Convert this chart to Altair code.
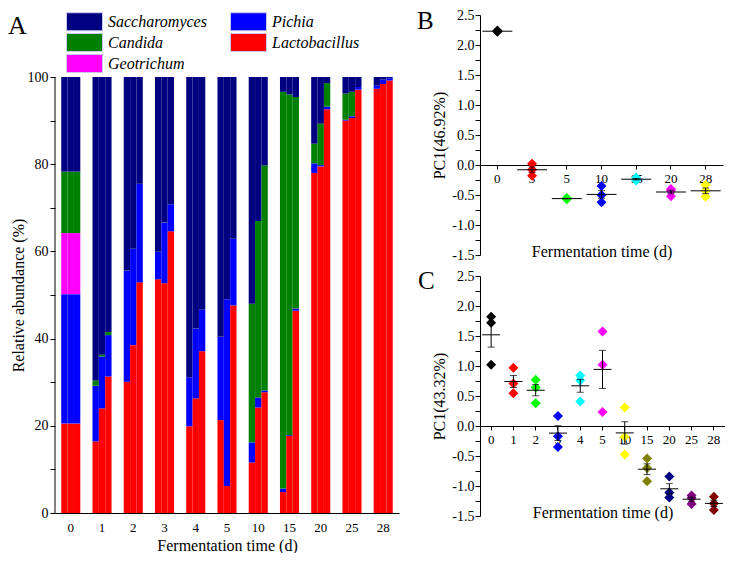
import altair as alt
import pandas as pd

FONT = "Liberation Serif, Times New Roman, Times, DejaVu Serif, serif"

# ---------------- Panel A data ----------------
days_a = ["0", "1", "2", "3", "4", "5", "10", "15", "20", "25", "28"]
reps = ["r1", "r2", "r3"]
# legend order (laid out column by column: 3 rows in col 1, 2 rows in col 2)
genera = ["Saccharomyces", "Candida", "Geotrichum", "Pichia", "Lactobacillus"]
genus_colors = ["#000080", "#008000", "#FF00FF", "#0000FF", "#FF0000"]
stack_rank = {"Lactobacillus": 0, "Pichia": 1, "Geotrichum": 2, "Candida": 3, "Saccharomyces": 4}

# values per bar: 11 days x 3 replicates (day-major order)
lactobacillus = [20.5, 20.5, 20.5, 16.4, 24.0, 31.3, 30.1, 38.5, 52.9, 53.6, 52.7, 64.6,
                 19.9, 26.3, 37.1, 21.3, 6.2, 47.6, 11.6, 24.2, 27.7, 4.8, 17.7, 46.4,
                 78.0, 79.5, 92.6, 90.0, 90.6, 97.1, 97.3, 98.4, 99.2]
pichia = [29.7, 29.7, 29.7, 12.8, 11.9, 9.5, 25.5, 22.1, 22.6, 6.3, 13.9, 6.2,
          11.2, 16.0, 9.6, 19.1, 42.8, 15.3, 4.6, 2.3, 0.4, 0.8, 0.2, 0.5,
          2.2, 0.3, 0.6, 0.2, 0.4, 0.6, 0.7, 1.0, 0.5]
geotrichum = [14.0, 14.0, 14.0, 0, 0, 0, 0, 0, 0, 0, 0, 0,
              0, 0, 0, 0, 0, 0, 0, 0, 0, 0, 0, 0,
              0, 0, 0, 0, 0, 0, 0, 0, 0]
candida = [14.1, 14.1, 14.1, 1.2, 0.4, 0.7, 0, 0, 0, 0, 0, 0,
           0, 0, 0, 0, 0, 0, 31.8, 40.5, 51.6, 91.0, 78.1, 48.5,
           4.5, 9.5, 5.4, 6.0, 5.6, 0, 0, 0, 0]
saccharomyces = [21.7, 21.7, 21.7, 69.6, 63.7, 58.5, 44.4, 39.4, 24.5, 40.1, 33.4, 29.2,
                 68.9, 57.7, 53.3, 59.6, 51.0, 37.1, 52.0, 33.0, 20.3, 3.4, 4.0, 4.6,
                 15.3, 10.7, 1.4, 3.8, 3.4, 2.3, 2.0, 0.6, 0.3]

# ---------------- Panel B data ----------------
times_b = ["0", "3", "5", "10", "15", "20", "28"]
pc1_b = [2.22, 2.23, 2.24,
         0.02, -0.08, -0.18,
         -0.55, -0.56, -0.57,
         -0.35, -0.50, -0.62,
         -0.21, -0.24, -0.26,
         -0.40, -0.43, -0.52,
         -0.33, -0.43, -0.53]
colors_b = ["#000000", "#FF0000", "#00FF00", "#0000FF", "#00FFFF", "#FF00FF", "#FFFF00"]

# ---------------- Panel C data ----------------
times_c = ["0", "1", "2", "3", "4", "5", "10", "15", "20", "25", "28"]
pc1_c = [1.82, 1.72, 1.02,
         0.97, 0.71, 0.545,
         0.77, 0.64, 0.38,
         0.165, -0.17, -0.35,
         0.84, 0.76, 0.41,
         1.575, 1.02, 0.235,
         0.31, -0.18, -0.475,
         -0.54, -0.70, -0.92,
         -0.84, -1.11, -1.19,
         -1.16, -1.20, -1.30,
         -1.18, -1.29, -1.40]
colors_c = ["#000000", "#FF0000", "#00FF00", "#0000FF", "#00FFFF", "#FF00FF",
            "#FFFF00", "#808000", "#000080", "#800080", "#800000"]

# ================= Panel A =================
rows = []
series = [("Lactobacillus", lactobacillus), ("Pichia", pichia), ("Geotrichum", geotrichum),
          ("Candida", candida), ("Saccharomyces", saccharomyces)]
for i, d in enumerate(days_a):
    for j, r in enumerate(reps):
        k = i * 3 + j
        for g, arr in series:
            rows.append({"day": d, "rep": r, "genus": g, "value": arr[k], "rank": stack_rank[g]})
df_a = pd.DataFrame(rows)

A_W, A_H = 344, 498
A_TOP = 62
y_max = 100.0 * A_H / (A_H - A_TOP)
yscale_a = alt.Scale(domain=[0, y_max], nice=False, zero=True)

bars = alt.Chart(df_a).mark_bar().encode(
    x=alt.X("day:N", sort=days_a,
            scale=alt.Scale(paddingInner=0.39, paddingOuter=0.2),
            axis=alt.Axis(title="Fermentation time (d)", labelAngle=0, ticks=False,
                          labelPadding=8, titlePadding=3, labelFontSize=13, titleFontSize=16)),
    xOffset=alt.XOffset("rep:N", sort=reps),
    y=alt.Y("value:Q", stack="zero", scale=yscale_a,
            axis=alt.Axis(values=list(range(0, 101, 10)),
                          labelExpr="datum.value % 20 == 0 ? datum.label : ''",
                          domain=False, tickSize=5, labelPadding=2, labelFontSize=14,
                          title="Relative abundance (%)", titleFontSize=16,
                          titleX=-37, titleY=(A_TOP + A_H) / 2, titleAngle=270,
                          titleBaseline="middle", titleAlign="center")),
    color=alt.Color("genus:N", scale=alt.Scale(domain=genera, range=genus_colors),
                    legend=alt.Legend(title=None, orient="none", legendX=20, legendY=-3,
                                      columns=2, padding=0,
                                      symbolType="M-2,-1H2V1H-2Z", symbolSize=324,
                                      symbolStrokeColor="#c8c8f0", symbolStrokeWidth=1,
                                      symbolOpacity=1,
                                      labelFont=FONT, labelFontStyle="italic", labelFontSize=16,
                                      labelColor="black", labelOffset=14,
                                      columnPadding=21, rowPadding=-3)),
    order=alt.Order("rank:Q", sort="ascending"),
)

axis_line_a = alt.Chart(pd.DataFrame({"k": [0]})).mark_rule(color="black", strokeWidth=1).encode(
    x=alt.value(0), y=alt.datum(0), y2=alt.datum(100)
)

letter_a = alt.Chart(pd.DataFrame({"t": ["A"]})).mark_text(
    font=FONT, fontSize=26, align="left", baseline="alphabetic", color="black"
).encode(text="t:N", x=alt.value(-47), y=alt.value(A_TOP - 43))

chart_a = alt.layer(bars, axis_line_a, letter_a).properties(width=A_W, height=A_H)


# ================= Panels B and C =================
def pc_panel(times, vals, colors, ytitle, letter, W, H, mean_w, lx, ly):
    tcol = [t for t in times for _ in range(3)]
    df = pd.DataFrame({"time": tcol, "pc": vals})
    zero_off = H * 1.5 / 4.0
    xenc = alt.X("time:N", sort=times, scale=alt.Scale(paddingInner=0, paddingOuter=0),
                 axis=alt.Axis(title="Fermentation time (d)", labelAngle=0, offset=-zero_off,
                               tickSize=4, labelPadding=3, labelFontSize=13, titleFontSize=16,
                               titleY=zero_off - 4, titleBaseline="middle"))
    yscale = alt.Scale(domain=[-1.5, 2.5], nice=False, zero=False)
    yaxis = alt.Axis(values=[-1.5 + 0.25 * i for i in range(17)],
                     labelExpr=("abs(datum.value*2 - round(datum.value*2)) < 1e-6 ? "
                                "(datum.value < 0 ? '-' + format(-datum.value, '.1f') : "
                                "format(datum.value, '.1f')) : ''"),
                     tickSize=5, labelPadding=1, labelFontSize=14,
                     title=ytitle, titleFontSize=16, titlePadding=4)
    base = alt.Chart(df)
    pts = base.mark_point(shape="diamond", filled=True, size=100, opacity=1).encode(
        x=xenc,
        y=alt.Y("pc:Q", scale=yscale, axis=yaxis),
        color=alt.Color("time:N", scale=alt.Scale(domain=times, range=colors), legend=None),
    )
    mean = base.mark_tick(color="black", thickness=1, size=mean_w).encode(
        x=xenc, y=alt.Y("mean(pc):Q", scale=yscale, axis=yaxis)
    )
    err = base.transform_aggregate(
        m="mean(pc)", v="variancep(pc)", n="count()", groupby=["time"]
    ).transform_calculate(
        lo="datum.m - sqrt(datum.v / datum.n)", hi="datum.m + sqrt(datum.v / datum.n)"
    ).mark_errorbar(ticks={"size": 7}, color="black").encode(
        x=xenc, y=alt.Y("lo:Q", scale=yscale, axis=yaxis), y2="hi:Q"
    )
    let = alt.Chart(pd.DataFrame({"t": [letter]})).mark_text(
        font=FONT, fontSize=25, align="left", baseline="alphabetic", color="black"
    ).encode(text="t:N", x=alt.value(lx), y=alt.value(ly))
    return alt.layer(pts, mean, err, let).properties(width=W, height=H)


chart_b = pc_panel(times_b, pc1_b, colors_b, "PC1(46.92%)", "B", 243, 240, 30, -63, 14)
chart_c = pc_panel(times_c, pc1_c, colors_c, "PC1(43.32%)", "C", 245, 240, 18, -62, 13)

right = alt.vconcat(chart_b, chart_c, spacing=7).resolve_scale(
    color="independent", x="independent", y="independent")

chart = alt.hconcat(chart_a, right, spacing=18).resolve_scale(
    color="independent", x="independent", y="independent"
).properties(padding=0).configure_axis(
    labelFont=FONT, titleFont=FONT, labelColor="black", titleColor="black",
    domainColor="black", tickColor="black", grid=False, titleFontWeight="normal",
    domainWidth=1, tickWidth=1
).configure_view(stroke=None)

chart.save("out.html", embed_options={"renderer": "svg", "actions": False})
